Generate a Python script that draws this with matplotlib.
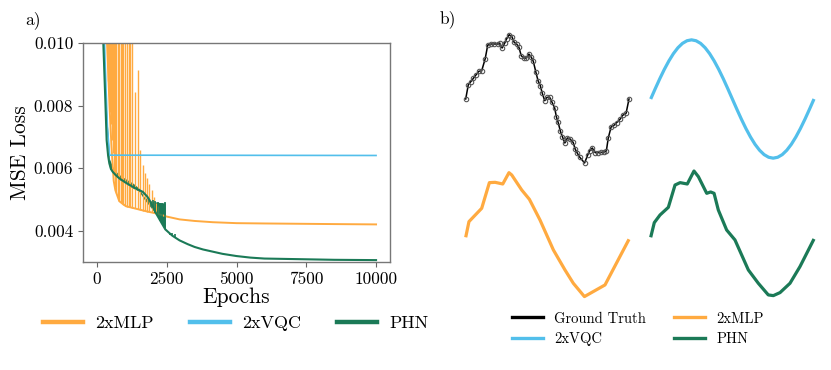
import matplotlib
matplotlib.use("Agg")
import matplotlib.pyplot as plt
from matplotlib.lines import Line2D

plt.rcParams['font.family'] = 'serif'
plt.rcParams['font.serif'] = ['cmr10', 'DejaVu Serif']
plt.rcParams['mathtext.fontset'] = 'cm'
plt.rcParams['axes.unicode_minus'] = False
plt.rcParams['axes.formatter.use_mathtext'] = True

C_MLP = '#FFAA40'
C_VQC = '#52BFEB'
C_PHN = '#1B7A57'

# ---------------- panel a) data ----------------
xticks = [0, 2500, 5000, 7500, 10000]
yticks = [0.004, 0.006, 0.008, 0.010]

mlp_epochs = [250, 370, 450, 520, 600, 660, 800, 1040, 1400, 1760, 2120, 2500,
              2960, 3500, 4150, 5000, 6000, 7270, 8500, 10000]
mlp_loss = [0.0125, 0.0098, 0.0080, 0.0067, 0.0056, 0.0053, 0.00495, 0.00479,
            0.00471, 0.00463, 0.00456, 0.00446, 0.00437, 0.00432, 0.00428,
            0.00425, 0.00424, 0.00423, 0.00422, 0.00421]

mlp_spike_epochs = [380, 410, 440, 470, 500, 530, 560, 600, 650, 700, 745, 800,
                    850, 900, 950, 1000, 1065, 1136, 1186, 1258, 1352, 1473,
                    1555, 1640, 1720, 1800, 1880, 1960, 2040, 2120, 2200]
mlp_spike_top = [0.0105] * 20 + [0.00844, 0.00915, 0.0066, 0.0061, 0.00585,
                                 0.0057, 0.0055, 0.0053, 0.0051, 0.0049, 0.0048]
mlp_spike_bottom = [0.0095, 0.0088, 0.0083, 0.0078, 0.0074, 0.0069, 0.0065,
                    0.0058, 0.0054, 0.0052, 0.0051, 0.00495, 0.0049, 0.00487,
                    0.00484, 0.00481, 0.00478, 0.00476, 0.00475, 0.00474,
                    0.00472, 0.00469, 0.00467, 0.00465, 0.00464, 0.00462,
                    0.00460, 0.00459, 0.00457, 0.00456, 0.00454]

vqc_epochs = [200, 300, 374, 453, 10000]
vqc_loss = [0.0120, 0.0092, 0.0073, 0.00642, 0.00641]

phn_epochs = [150, 228, 300, 347, 400, 443, 500, 563, 700, 802, 1000, 1281,
              1500, 1641, 1800, 1880, 2000, 2120, 2300, 2450, 2700, 2960,
              3250, 3500, 3800, 4150, 4500, 5000, 5500, 6000, 7270, 8500, 10000]
phn_loss = [0.0140, 0.0100, 0.00817, 0.0069, 0.0064, 0.00616, 0.00598,
            0.00589, 0.00576, 0.00568, 0.00556, 0.00541, 0.00531, 0.00525,
            0.00510, 0.00499, 0.00478, 0.00456, 0.00428, 0.00405, 0.00385,
            0.00370, 0.00358, 0.00349, 0.00341, 0.00334, 0.00327, 0.00320,
            0.00315, 0.00312, 0.00310, 0.00308, 0.00307]

phn_band_epochs = [300, 450, 600, 800, 1000, 1300, 1500, 1700, 1900, 2100, 2300, 2450]
phn_band_high = [0.0085, 0.0063, 0.00597, 0.00580, 0.00568, 0.00552, 0.00537,
                 0.00508, 0.00497, 0.00493, 0.00490, 0.00490]
phn_band_low = [0.0080, 0.0060, 0.00583, 0.00564, 0.00553, 0.00536, 0.00527,
                0.00500, 0.00478, 0.00456, 0.00428, 0.00405]

phn_spike_epochs = [2000, 2095, 2180, 2265, 2335, 2443, 2600, 2700, 2780]
phn_spike_top = [0.00498, 0.00496, 0.00493, 0.00490, 0.00488, 0.00492,
                 0.00395, 0.00392, 0.00390]
phn_spike_bottom = [0.00478, 0.00458, 0.00445, 0.00433, 0.00425, 0.00405,
                    0.00388, 0.00383, 0.00378]

# ---------------- panel b) data ----------------
gt_t = [0.0, 0.016, 0.031, 0.047, 0.064, 0.080, 0.098, 0.119, 0.135, 0.156,
        0.176, 0.195, 0.207, 0.223, 0.238, 0.250, 0.266, 0.283, 0.297, 0.312,
        0.326, 0.340, 0.355, 0.371, 0.387, 0.402, 0.414, 0.430, 0.443, 0.457,
        0.469, 0.484, 0.498, 0.514, 0.529, 0.545, 0.555, 0.566, 0.580, 0.592,
        0.607, 0.623, 0.637, 0.658, 0.670, 0.684, 0.699, 0.728, 0.748, 0.760,
        0.775, 0.793, 0.809, 0.826, 0.844, 0.861, 0.873, 0.891, 0.908, 0.924,
        0.945, 0.961, 0.982, 1.0]
gt_v = [0.0, 0.223, 0.269, 0.321, 0.378, 0.430, 0.440, 0.622, 0.839, 0.855,
        0.855, 0.855, 0.865, 0.793, 0.865, 0.933, 1.000, 0.969, 0.881, 0.855,
        0.803, 0.674, 0.637, 0.637, 0.699, 0.648, 0.585, 0.415, 0.285, 0.207,
        0.088, -0.026, 0.026, 0.026, -0.052, -0.140, -0.275, -0.363, -0.503,
        -0.585, -0.684, -0.606, -0.617, -0.674, -0.777, -0.845, -0.907, -0.995,
        -0.865, -0.803, -0.762, -0.834, -0.834, -0.829, -0.829, -0.813, -0.606,
        -0.430, -0.409, -0.368, -0.316, -0.254, -0.223, 0.0]

vqc_t = [i / 36 for i in range(37)]
vqc_v = [0.0, 0.160, 0.315, 0.460, 0.591, 0.705, 0.797, 0.865, 0.906, 0.920,
         0.906, 0.865, 0.797, 0.705, 0.591, 0.460, 0.315, 0.160, 0.0,
         -0.160, -0.315, -0.460, -0.591, -0.705, -0.797, -0.865, -0.906, -0.920,
         -0.906, -0.865, -0.797, -0.705, -0.591, -0.460, -0.315, -0.160, 0.0]

mlp_t = [0.0, 0.020, 0.098, 0.145, 0.180, 0.227, 0.265, 0.282, 0.343, 0.390,
         0.455, 0.537, 0.608, 0.659, 0.727, 0.853, 1.0]
mlp_v = [0.0, 0.244, 0.451, 0.850, 0.855, 0.829, 1.005, 0.969, 0.736, 0.591,
         0.269, -0.197, -0.508, -0.715, -0.922, -0.741, -0.031]

phn_t = [0.0, 0.022, 0.057, 0.108, 0.149, 0.180, 0.224, 0.265, 0.292, 0.343,
         0.367, 0.388, 0.414, 0.465, 0.516, 0.598, 0.659, 0.720, 0.751, 0.792,
         0.853, 0.914, 1.0]
phn_v = [0.0, 0.228, 0.347, 0.466, 0.813, 0.850, 0.829, 1.031, 0.943, 0.684,
         0.705, 0.684, 0.425, 0.114, -0.041, -0.508, -0.715, -0.896, -0.907,
         -0.860, -0.715, -0.456, -0.026]

W, H = 831, 370
fig = plt.figure(figsize=(W / 100, H / 100), dpi=100)


def rect(x0, y0, x1, y1):
    return [x0 / W, 1 - y1 / H, (x1 - x0) / W, (y1 - y0) / H]


# ---------------- panel a) ----------------
ax = fig.add_axes(rect(83, 43, 390, 262))
ax.vlines(mlp_spike_epochs, mlp_spike_bottom, mlp_spike_top, color=C_MLP, lw=1.0)
ax.plot(mlp_epochs, mlp_loss, color=C_MLP, lw=1.4)
ax.plot(vqc_epochs, vqc_loss, color=C_VQC, lw=1.2)
ax.fill_between(phn_band_epochs, phn_band_low, phn_band_high, color=C_PHN, lw=0)
ax.vlines(phn_spike_epochs, phn_spike_bottom, phn_spike_top, color=C_PHN, lw=1.2)
ax.plot(phn_epochs, phn_loss, color=C_PHN, lw=1.5)

ax.set_xlim(-500, 10500)
ax.set_ylim(0.00301, 0.010)
ax.set_xticks(xticks)
ax.set_xticklabels([str(v) for v in xticks])
ax.set_yticks(yticks)
ax.set_yticklabels([f"{v:.3f}" for v in yticks])
ax.tick_params(labelsize=12.5, color='#666666', length=3.5, width=0.8)
for s in ax.spines.values():
    s.set_color('#777777')
    s.set_linewidth(1.0)
ax.set_xlabel('Epochs', fontsize=15.5, labelpad=0)
ax.set_ylabel('MSE Loss', fontsize=15.5, labelpad=3)

fig.text(25 / W, 1 - 20 / H, 'a)', fontsize=12.5, va='center', ha='left')
fig.text(440 / W, 1 - 19 / H, 'b)', fontsize=12.5, va='center', ha='left')

handles_a = [Line2D([], [], color=C_MLP, lw=3.2),
             Line2D([], [], color=C_VQC, lw=3.2),
             Line2D([], [], color=C_PHN, lw=3.2)]
fig.legend(handles_a, ['2xMLP', '2xVQC', 'PHN'], loc='center',
           bbox_to_anchor=(236 / W, 1 - 323 / H), ncol=3, frameon=False,
           fontsize=13, handlelength=2.2, handletextpad=0.7, columnspacing=2.0)

# ---------------- panel b) ----------------
cols = [(465.7, 629.0), (650.7, 814.0)]
rows = [99.0, 237.3]
scale = 64.3
ylim = 1.12


def panel(col, row):
    x0, x1 = cols[col]
    yc = rows[row]
    a = fig.add_axes(rect(x0, yc - ylim * scale, x1, yc + ylim * scale))
    a.set_xlim(0, 1)
    a.set_ylim(-ylim, ylim)
    a.axis('off')
    return a


a1 = panel(0, 0)
a1.plot(gt_t, gt_v, color='black', lw=1.1, marker='o', ms=3.2,
        mfc='none', mec='#555555', mew=0.8, clip_on=False)
a2 = panel(1, 0)
a2.plot(vqc_t, vqc_v, color=C_VQC, lw=2.3, solid_capstyle='butt', clip_on=False)
a3 = panel(0, 1)
a3.plot(mlp_t, mlp_v, color=C_MLP, lw=2.3, solid_capstyle='butt', clip_on=False)
a4 = panel(1, 1)
a4.plot(phn_t, phn_v, color=C_PHN, lw=2.3, solid_capstyle='butt', clip_on=False)

handles_b = [Line2D([], [], color='black', lw=2.4),
             Line2D([], [], color=C_VQC, lw=2.4),
             Line2D([], [], color=C_MLP, lw=2.4),
             Line2D([], [], color=C_PHN, lw=2.4)]
fig.legend(handles_b, ['Ground Truth', '2xVQC', '2xMLP', 'PHN'], loc='center',
           bbox_to_anchor=(638 / W, 1 - 329 / H), ncol=2, frameon=False,
           fontsize=10.5, handlelength=2.1, handletextpad=0.8,
           columnspacing=1.9, labelspacing=0.45)

fig.savefig('out.png', dpi=100)
